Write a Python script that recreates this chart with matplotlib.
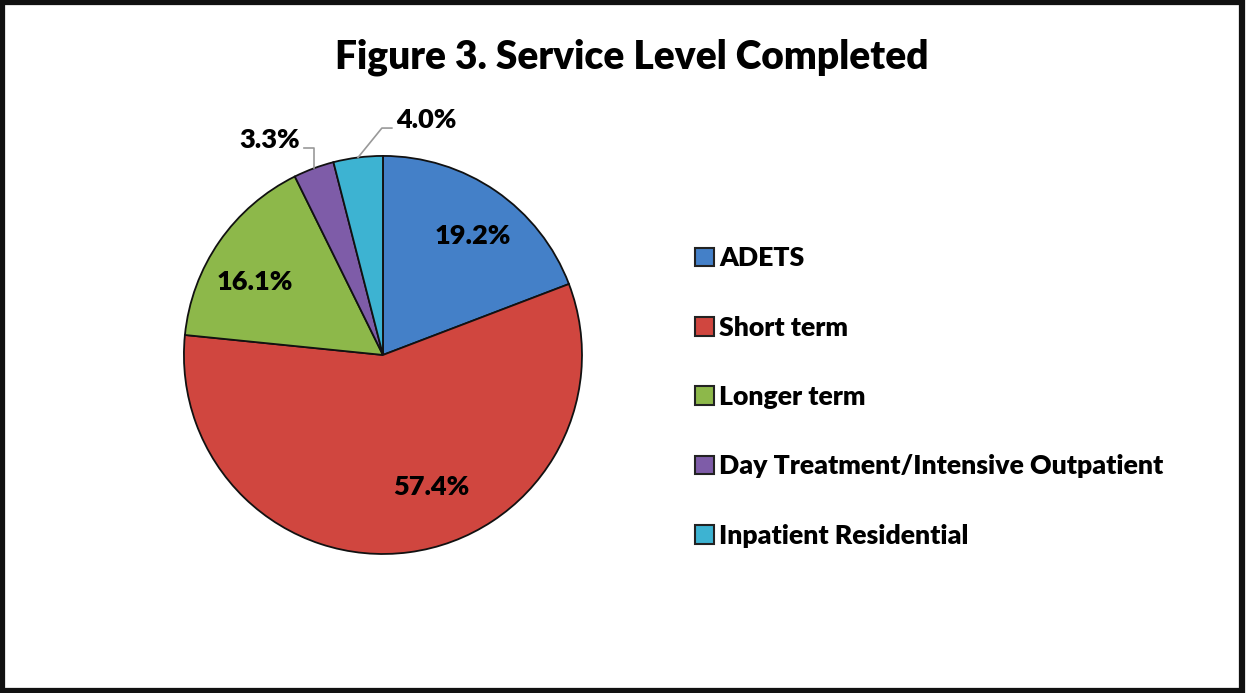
import numpy as np
import matplotlib.pyplot as plt
from matplotlib.patches import Rectangle

categories = ['ADETS', 'Short term', 'Longer term',
              'Day Treatment/Intensive Outpatient', 'Inpatient Residential']
shares = [19.2, 57.4, 16.1, 3.3, 4.0]
colors = ['#4480C8', '#D0463F', '#8DB84A', '#7E5CA8', '#3DB3D2']

plt.rcParams['font.family'] = ['Lato', 'DejaVu Sans']
W = 'heavy'

fig = plt.figure(figsize=(12.47, 6.93), dpi=100)
fig.patches.append(Rectangle((0.002, 0.003), 0.994, 0.994, transform=fig.transFigure,
                             fill=False, edgecolor='#111111', linewidth=4.5))

fig.text(0.507, 0.917, 'Figure 3. Service Level Completed', ha='center', va='center',
         fontsize=28, fontweight=W)

ax = fig.add_axes([0.1443, 0.1948, 0.3256, 0.586])
wedges, _ = ax.pie(shares, colors=colors, startangle=90, counterclock=False,
                   wedgeprops=dict(edgecolor='#111111', linewidth=1.3))
ax.set_xlim(-1.02, 1.02)
ax.set_ylim(-1.02, 1.02)
ax.set_aspect('equal')

# inside labels (positions relative to unit radius)
inside_pos = {0: (0.453, 0.596), 1: (0.242, -0.665), 2: (-0.645, 0.365)}
for i, (x, y) in inside_pos.items():
    ax.text(x, y, f'{shares[i]:.1f}%', ha='center', va='center',
            fontsize=19.5, fontweight=W)

# outside labels with leader lines
for i, elbow_y, end_dx, ha in [(3, 1.04, -0.05, 'right'), (4, 1.14, 0.05, 'left')]:
    w = wedges[i]
    mid = np.deg2rad((w.theta1 + w.theta2) / 2)
    ex, ey = np.cos(mid), np.sin(mid)
    elbow_x = ex + 0.0 if i == 3 else ex + 0.12
    xs = [ex, elbow_x, elbow_x + end_dx]
    ys = [ey, elbow_y, elbow_y]
    ax.plot(xs, ys, color='#999999', linewidth=1.2, clip_on=False)
    tx = xs[-1] + (-0.02 if ha == 'right' else 0.02)
    ax.text(tx, elbow_y + 0.04, f'{shares[i]:.1f}%', ha=ha, va='center',
            fontsize=19.5, fontweight=W)

leg = fig.legend(wedges, categories, loc='upper left', bbox_to_anchor=(0.549, 0.66),
                 frameon=False, prop=dict(size=19.2, weight=W), handlelength=0.7,
                 handleheight=0.7, handletextpad=0.2, labelspacing=1.7, borderaxespad=0)
for h in leg.legend_handles:
    h.set_edgecolor('#222222')
    h.set_linewidth(1.5)

fig.savefig('out.png', dpi=100)
